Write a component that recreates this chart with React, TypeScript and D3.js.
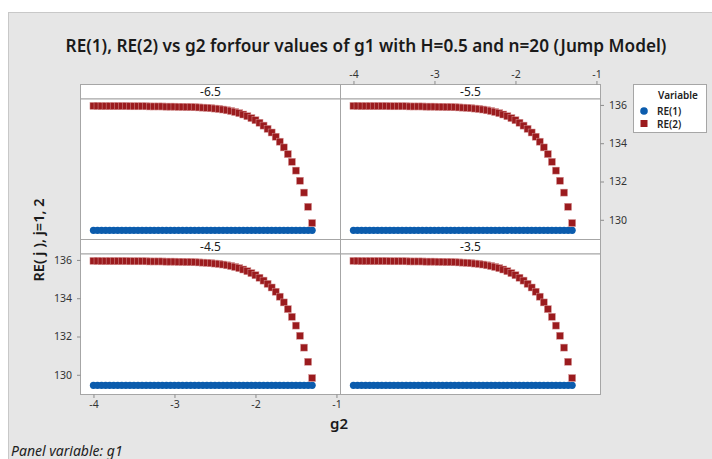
import React, { useEffect, useRef } from 'react';
import * as d3 from 'd3';

// panel variable g1, one panel each
const g1Panels = ['-6.5', '-5.5', '-4.5', '-3.5'];

const g2Values = [
  -4.00, -3.95, -3.90, -3.85, -3.80, -3.75, -3.70, -3.65, -3.60, -3.55,
  -3.50, -3.45, -3.40, -3.35, -3.30, -3.25, -3.20, -3.15, -3.10, -3.05,
  -3.00, -2.95, -2.90, -2.85, -2.80, -2.75, -2.70, -2.65, -2.60, -2.55,
  -2.50, -2.45, -2.40, -2.35, -2.30, -2.25, -2.20, -2.15, -2.10, -2.05,
  -2.00, -1.95, -1.90, -1.85, -1.80, -1.75, -1.70, -1.65, -1.60, -1.55,
  -1.50, -1.45, -1.40, -1.35, -1.30
];

const re1Values = [
  129.45, 129.45, 129.45, 129.45, 129.45, 129.45, 129.45, 129.45, 129.45, 129.45,
  129.45, 129.45, 129.45, 129.45, 129.45, 129.45, 129.45, 129.45, 129.45, 129.45,
  129.45, 129.45, 129.45, 129.45, 129.45, 129.45, 129.45, 129.45, 129.45, 129.45,
  129.45, 129.45, 129.45, 129.45, 129.45, 129.45, 129.45, 129.45, 129.45, 129.45,
  129.45, 129.45, 129.45, 129.45, 129.45, 129.45, 129.45, 129.45, 129.45, 129.45,
  129.45, 129.45, 129.45, 129.45, 129.45
];

const re2Values = [
  135.95, 135.95, 135.94, 135.94, 135.94, 135.94, 135.94, 135.94, 135.94, 135.93,
  135.93, 135.93, 135.93, 135.93, 135.92, 135.92, 135.92, 135.92, 135.91, 135.91,
  135.91, 135.90, 135.90, 135.89, 135.89, 135.88, 135.87, 135.86, 135.85, 135.83,
  135.81, 135.79, 135.76, 135.72, 135.68, 135.63, 135.57, 135.50, 135.41, 135.31,
  135.20, 135.07, 134.92, 134.75, 134.56, 134.34, 134.08, 133.78, 133.43, 133.03,
  132.57, 132.04, 131.42, 130.68, 129.83
];

const xTicks = [-4, -3, -2, -1];
const yTicks = [130, 132, 134, 136];
const seriesNames = ['RE(1)', 'RE(2)'];

const FONT = '"Noto Sans", "Open Sans", sans-serif';
const BLUE = '#0b5cad';
const RED = '#9b1b1e';

export default function App() {
  const ref = useRef<SVGSVGElement>(null);

  useEffect(() => {
    const svg = d3.select(ref.current);
    svg.selectAll('*').remove();
    const W = 712, H = 459;

    svg.append('rect').attr('width', W).attr('height', H).attr('fill', '#fff');
    svg.append('rect')
      .attr('x', 8.5).attr('y', 12.5)
      .attr('width', W - 8).attr('height', H - 12)
      .attr('fill', '#e6e6e6').attr('stroke', '#c8c8c8');

    svg.append('text')
      .attr('x', 366).attr('y', 45)
      .attr('text-anchor', 'middle').attr('dominant-baseline', 'central')
      .style('font-family', FONT).style('font-size', '17.2px').style('font-weight', 600)
      .attr('fill', '#1a1a1a')
      .text('RE(1), RE(2) vs g2 forfour values of g1 with H=0.5 and n=20 (Jump Model)');

    const panelW = 260, plotH = 140.5, headH = 14.5, left0 = 80.5, top0 = 84.5, rowStep = 155;
    const fmt = d => String(d);

    const styleAxis = (sel) => {
      sel.select('.domain').remove();
      sel.selectAll('line').attr('stroke', '#8c8c8c');
      sel.selectAll('text')
        .style('font-family', FONT).style('font-size', '10.5px')
        .attr('fill', '#333');
    };

    g1Panels.forEach((g1, i) => {
      const col = i % 2, row = Math.floor(i / 2);
      const x0 = left0 + col * panelW;
      const hTop = top0 + row * rowStep;
      const pTop = hTop + headH;

      const x = d3.scaleLinear().domain([-4.16, -0.95]).range([x0, x0 + panelW]);
      const y = d3.scaleLinear().domain([128.97, 136.31]).range([pTop + plotH, pTop]);

      const g = svg.append('g');
      g.append('rect')
        .attr('x', x0).attr('y', hTop).attr('width', panelW).attr('height', headH)
        .attr('fill', '#fff').attr('stroke', '#a6a6a6');
      g.append('text')
        .attr('x', x0 + panelW / 2).attr('y', hTop + headH / 2)
        .attr('text-anchor', 'middle').attr('dominant-baseline', 'central')
        .style('font-family', FONT).style('font-size', '12px')
        .attr('fill', '#222')
        .text(g1);
      g.append('rect')
        .attr('x', x0).attr('y', pTop).attr('width', panelW).attr('height', plotH)
        .attr('fill', '#fff').attr('stroke', '#a6a6a6');

      g.selectAll('circle.re1')
        .data(re1Values)
        .enter().append('circle')
        .attr('class', 're1')
        .attr('cx', (d, j) => x(g2Values[j]))
        .attr('cy', d => y(d))
        .attr('r', 3.6)
        .attr('fill', BLUE);

      g.selectAll('rect.re2')
        .data(re2Values)
        .enter().append('rect')
        .attr('class', 're2')
        .attr('x', (d, j) => x(g2Values[j]) - 3.5)
        .attr('y', d => y(d) - 3.5)
        .attr('width', 7).attr('height', 7)
        .attr('fill', RED)
        .attr('stroke', '#d89a9a').attr('stroke-width', 0.5);

      if (col === 0 && row === 1) {
        g.append('g')
          .attr('transform', `translate(0,${pTop + plotH})`)
          .call(d3.axisBottom(x).tickValues(xTicks).tickSize(3.5).tickPadding(3).tickFormat(fmt))
          .call(styleAxis);
        g.append('g')
          .attr('transform', `translate(${x0},0)`)
          .call(d3.axisLeft(y).tickValues(yTicks).tickSize(3.5).tickPadding(5).tickFormat(fmt))
          .call(styleAxis);
      }
      if (col === 1 && row === 0) {
        g.append('g')
          .attr('transform', `translate(0,${hTop})`)
          .call(d3.axisTop(x).tickValues(xTicks).tickSize(3.5).tickPadding(3).tickFormat(fmt))
          .call(styleAxis);
        g.append('g')
          .attr('transform', `translate(${x0 + panelW},0)`)
          .call(d3.axisRight(y).tickValues(yTicks).tickSize(3.5).tickPadding(5).tickFormat(fmt))
          .call(styleAxis);
      }
    });

    // axis titles
    svg.append('text')
      .attr('x', 339).attr('y', 423)
      .attr('text-anchor', 'middle').attr('dominant-baseline', 'central')
      .style('font-family', FONT).style('font-size', '15px').style('font-weight', 600)
      .attr('fill', '#1a1a1a')
      .text('g2');
    svg.append('text')
      .attr('transform', 'translate(38,240) rotate(-90)')
      .attr('text-anchor', 'middle').attr('dominant-baseline', 'central')
      .style('font-family', FONT).style('font-size', '14.5px').style('font-weight', 600)
      .attr('fill', '#1a1a1a')
      .text('RE( j ), j=1, 2');

    svg.append('text')
      .attr('x', 11).attr('y', 450)
      .attr('dominant-baseline', 'central')
      .style('font-family', FONT).style('font-size', '14px').style('font-style', 'italic')
      .attr('fill', '#222')
      .text('Panel variable: g1');

    // legend
    const lg = svg.append('g');
    lg.append('rect')
      .attr('x', 633.5).attr('y', 84.5).attr('width', 73).attr('height', 48)
      .attr('fill', '#fff').attr('stroke', '#a6a6a6');
    lg.append('text')
      .attr('x', 678).attr('y', 95)
      .attr('text-anchor', 'middle').attr('dominant-baseline', 'central')
      .style('font-family', FONT).style('font-size', '10px').style('font-weight', 600)
      .attr('fill', '#222')
      .text('Variable');
    seriesNames.forEach((name, k) => {
      const cy = 111 + k * 12.5;
      if (k === 0) {
        lg.append('circle').attr('cx', 644).attr('cy', cy).attr('r', 3.8).attr('fill', BLUE);
      } else {
        lg.append('rect').attr('x', 640.5).attr('y', cy - 3.5).attr('width', 7).attr('height', 7).attr('fill', RED);
      }
      lg.append('text')
        .attr('x', 657).attr('y', cy)
        .attr('dominant-baseline', 'central')
        .style('font-family', FONT).style('font-size', '10px').style('font-weight', 600)
        .attr('fill', '#222')
        .text(name);
    });
  }, []);

  return (
    <div style={{ position: 'absolute', left: 0, top: 0 }}>
      <svg ref={ref} width={712} height={459} />
    </div>
  );
}
